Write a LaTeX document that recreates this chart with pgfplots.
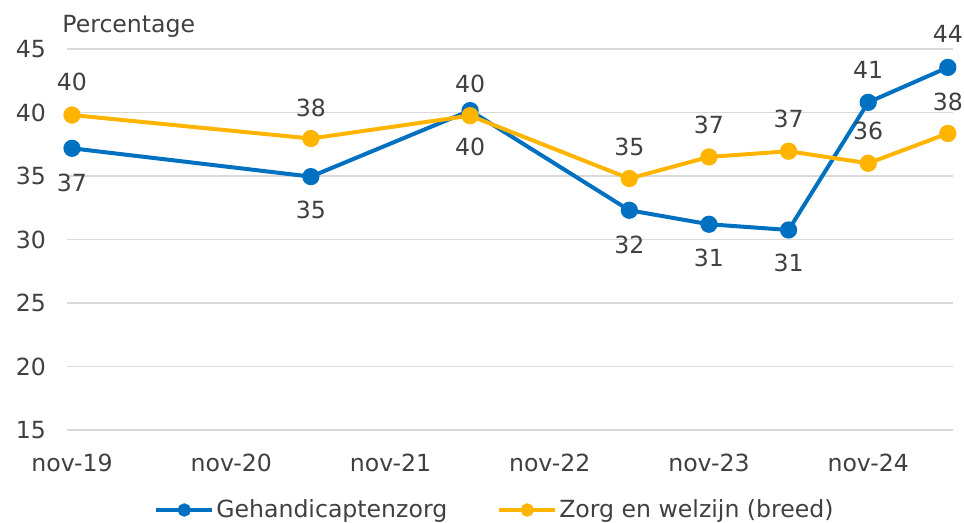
\documentclass[border=0pt]{standalone}
\usepackage{fontspec}
\setmainfont{DejaVu Sans}
\usepackage{pgfplots}
\pgfplotsset{compat=1.18}
\definecolor{cblue}{RGB}{0,112,192}
\definecolor{corange}{RGB}{255,180,0}
\definecolor{labgray}{RGB}{64,64,64}
\definecolor{gridgray}{RGB}{217,217,217}
\newcommand{\chfont}{\fontsize{11.8}{14}\selectfont}
\begin{document}
\begin{tikzpicture}
\begin{axis}[
  scale only axis,
  width=443pt, height=190.5pt,
  xmin=-0.377, xmax=66.39,
  ymin=15, ymax=45,
  xtick={0,12,24,36,48,60},
  xticklabels={nov-19,nov-20,nov-21,nov-22,nov-23,nov-24},
  ytick={15,20,25,30,35,40,45},
  ymajorgrids,
  grid style={gridgray, line width=0.7pt},
  axis line style={draw=none},
  tick style={draw=none},
  major tick length=0pt,
  /pgf/number format/assume math mode=true,
  tick label style={font=\chfont, text=labgray},
  yticklabel style={anchor=east, xshift=-7pt},
  xticklabel style={anchor=north, yshift=-8.5pt},
  clip=false,
  point meta=explicit symbolic,
  visualization depends on={\thisrow{dy} \as \dy},
  nodes near coords,
  nodes near coords style={anchor=center, yshift=\dy pt, font=\chfont, text=labgray, inner sep=0pt},
  legend columns=2,
  legend style={at={(0.483,-0.21)}, anchor=center, draw=none, fill=none,
    font=\chfont, text=labgray,
    /tikz/every even column/.append style={column sep=24pt},
    nodes={inner xsep=1pt}},
  legend image code/.code={\draw[mark repeat=2,mark phase=2,#1,mark size=2.3pt] plot coordinates {(0pt,0pt) (14pt,0pt) (28pt,0pt)};},
]
\addplot[cblue, line width=2pt, mark=*, mark size=3.3pt, mark options={solid, fill=cblue, draw=cblue}]
table[meta=lab]{
x y lab dy
0 37.18 37 -17.5
18 34.95 35 -16.5
30 40.15 40 13.5
42 32.3 32 -17.5
48 31.2 31 -17
54 30.75 31 -16.5
60 40.8 41 16
66 43.55 44 17
};
\addlegendentry{Gehandicaptenzorg}
\addplot[corange, line width=2pt, mark=*, mark size=3.3pt, mark options={solid, fill=corange, draw=corange}]
table[meta=lab]{
x y lab dy
0 39.8 40 16.5
18 37.95 38 15.5
30 39.75 40 -15.5
42 34.8 35 16
48 36.5 37 16
54 36.95 37 16
60 36.0 36 16
66 38.35 38 16
};
\addlegendentry{Zorg en welzijn (breed)}
\end{axis}
\node[anchor=base west, inner sep=0pt, font=\chfont, text=labgray] at (-2.5pt,198.5pt) {Percentage};
\pgfresetboundingbox
\path (-33.5pt,-46.5pt) rectangle (448.5pt,215pt);
\end{tikzpicture}
\end{document}
